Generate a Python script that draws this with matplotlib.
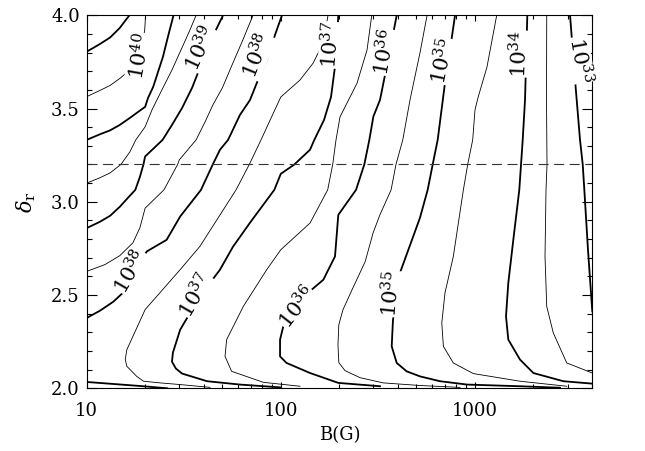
import matplotlib
matplotlib.use("Agg")
import matplotlib.pyplot as plt
from matplotlib.ticker import FixedLocator, LogLocator, MultipleLocator, NullFormatter, FormatStrFormatter

# contour lines: B in gauss, delta_r
b_41 = [10.0, 11.7, 13.2, 14.8, 15.9, 16.6]
d_41 = [3.805, 3.846, 3.881, 3.932, 3.975, 4.0]

b_405 = [10.0, 11.7, 13.2, 14.8, 16.7, 18.2, 19.3, 19.9, 20.1]
d_405 = [3.564, 3.597, 3.624, 3.661, 3.707, 3.761, 3.841, 3.921, 4.0]

b_40 = [10.0, 11.7, 13.2, 14.8, 16.7, 18.4, 20.0, 20.7, 22.0, 23.3, 24.7, 26.2, 28.0]
d_40 = [3.332, 3.362, 3.383, 3.412, 3.450, 3.482, 3.509, 3.557, 3.616, 3.696, 3.777, 3.884, 4.0]

b_395 = [10.0, 11.7, 13.2, 15.0, 16.7, 17.9, 20.0, 21.7, 24.4, 27.5, 30.6, 33.7, 36.6]
d_395 = [3.100, 3.129, 3.155, 3.2, 3.268, 3.332, 3.402, 3.493, 3.600, 3.707, 3.814, 3.911, 4.0]

b_39 = [10.0, 11.7, 13.2, 14.8, 16.3, 17.8, 18.8, 19.6, 20.0, 24.6, 27.5, 31.0, 34.9, 38.3, 41.7, 45.8, 50.4]
d_39 = [2.859, 2.893, 2.925, 2.973, 3.021, 3.064, 3.134, 3.2, 3.243, 3.332, 3.412, 3.503, 3.611, 3.718, 3.814, 3.911, 4.0]

b_385 = [10.0, 12.4, 14.8, 17.3, 18.8, 20.0, 25.0, 29.4, 30.0, 36.6, 40.7, 44.7, 50.0, 56.1, 63.1, 71.9]
d_385 = [2.627, 2.663, 2.711, 2.780, 2.861, 2.966, 3.064, 3.2, 3.225, 3.332, 3.428, 3.520, 3.611, 3.734, 3.857, 4.0]

b_38 = [10.0, 11.7, 13.7, 15.4, 17.7, 20.4, 25.8, 30.3, 38.8, 44.6, 48.6, 53.5, 61.6, 69.4, 76.3, 84.9, 93.3, 101.4]
d_38 = [2.377, 2.416, 2.464, 2.513, 2.636, 2.734, 2.796, 2.921, 3.064, 3.2, 3.279, 3.332, 3.466, 3.546, 3.653, 3.761, 3.894, 4.0]
b_38_low = [10.0, 19.6, 26.0]
d_38_low = [2.034, 2.011, 2.0]

b_375 = [43.2, 30.3, 23.9, 19.6, 18.1, 16.1, 15.8, 16.1, 20.0, 30.3, 38.3, 58.8, 68.8, 79.1, 84.9, 100.0, 125.6, 146.6, 165.0, 175.1]
d_375 = [2.005, 2.020, 2.029, 2.038, 2.064, 2.118, 2.154, 2.207, 2.422, 2.636, 2.761, 3.064, 3.2, 3.332, 3.402, 3.562, 3.653, 3.743, 3.850, 4.0]

b_37 = [99.1, 61.6, 41.7, 31.0, 28.8, 27.5, 27.8, 30.3, 38.3, 48.6, 56.7, 69.4, 92.6, 100.0, 117.4, 141.4, 148.8, 167.0, 181.4, 190.2, 195.0, 197.8]
d_37 = [2.005, 2.020, 2.038, 2.079, 2.106, 2.143, 2.191, 2.314, 2.493, 2.636, 2.759, 2.888, 3.064, 3.150, 3.2, 3.279, 3.332, 3.439, 3.562, 3.725, 3.868, 4.0]

b_365 = [125.6, 81.3, 55.8, 51.6, 52.6, 64.1, 84.6, 100.0, 141.4, 174.4, 185.1, 192.5, 201.8, 247.0, 278.1, 294.1]
d_365 = [2.011, 2.032, 2.091, 2.171, 2.261, 2.439, 2.636, 2.743, 2.886, 3.064, 3.2, 3.332, 3.455, 3.636, 3.814, 4.0]

b_36 = [324.3, 197.8, 141.4, 107.0, 99.1, 99.1, 103.0, 144.3, 165.6, 190.2, 197.8, 244.1, 269.3, 285.8, 299.8, 324.3, 351.3, 395.5]
d_36 = [2.011, 2.029, 2.082, 2.136, 2.171, 2.261, 2.332, 2.529, 2.582, 2.707, 2.930, 3.064, 3.2, 3.332, 3.457, 3.546, 3.725, 4.0]

b_355 = [838, 521, 337, 256, 214, 199, 197, 199, 209, 233, 272, 299, 324, 370, 392, 425, 463, 521, 567]
d_355 = [2.005, 2.015, 2.029, 2.057, 2.095, 2.138, 2.234, 2.341, 2.421, 2.529, 2.679, 2.834, 2.930, 3.064, 3.2, 3.332, 3.546, 3.798, 4.0]

b_35 = [2744, 1707, 911, 661, 521, 445, 395.5, 372.7, 378.4, 411.3, 474, 521, 571, 606, 643, 701, 744, 790]
d_35 = [2.003, 2.011, 2.020, 2.038, 2.064, 2.091, 2.136, 2.225, 2.368, 2.620, 2.796, 2.914, 3.064, 3.2, 3.332, 3.636, 3.814, 4.0]

b_345 = [2972, 1707, 981, 774, 688, 675, 701, 774, 872, 918, 974, 1001, 1041, 1154, 1295]
d_345 = [2.011, 2.038, 2.079, 2.136, 2.225, 2.350, 2.511, 2.707, 3.064, 3.2, 3.332, 3.493, 3.564, 3.723, 4.0]

b_34 = [4025, 2854, 2000, 1707, 1486, 1446, 1486, 1577, 1693, 1728, 1763, 1812, 1862]
d_34 = [2.025, 2.038, 2.082, 2.154, 2.261, 2.386, 2.565, 2.796, 3.064, 3.2, 3.332, 3.546, 4.0]

b_335 = [4025, 2972, 2534, 2344, 2297, 2324, 2352, 2338, 2344]
d_335 = [2.082, 2.136, 2.297, 2.439, 2.707, 3.064, 3.2, 3.546, 4.0]

b_33 = [4025, 3824, 3662, 3593, 3479, 3280, 3091]
d_33 = [2.412, 2.743, 3.064, 3.2, 3.332, 3.653, 4.0]

# contour labels
label_exp = [40, 39, 38, 37, 36, 35, 34, 33, 38, 37, 36, 35]
label_b = [18.8, 38.8, 75.4, 181, 344, 687, 1707, 3479, 16.9, 36.6, 121, 372]
label_d = [3.782, 3.819, 3.782, 3.841, 3.803, 3.755, 3.793, 3.761, 2.625, 2.497, 2.433, 2.507]
label_rot = [80, 65, 68, 85, 80, 78, 88, -80, 60, 60, 52, 84]

dashed_level = 3.2

lines = [
    (41, b_41, d_41), (40.5, b_405, d_405), (40, b_40, d_40),
    (39.5, b_395, d_395), (39, b_39, d_39), (38.5, b_385, d_385),
    (38, b_38, d_38), (38, b_38_low, d_38_low), (37.5, b_375, d_375),
    (37, b_37, d_37), (36.5, b_365, d_365), (36, b_36, d_36),
    (35.5, b_355, d_355), (35, b_35, d_35), (34.5, b_345, d_345),
    (34, b_34, d_34), (33.5, b_335, d_335), (33, b_33, d_33),
]

plt.rcParams["font.family"] = ["DejaVu Serif"]
plt.rcParams["mathtext.fontset"] = "dejavuserif"

fig = plt.figure(figsize=(6.45, 4.51), dpi=100)
ax = fig.add_axes([86.7 / 645, 1 - 388.3 / 451, (592.3 - 86.7) / 645, (388.3 - 15.3) / 451])

for level, b, d in lines:
    lw = 1.3 if float(level).is_integer() else 0.6
    ax.plot(b, d, color="black", lw=lw, solid_joinstyle="round")

ax.axhline(dashed_level, color="#333333", lw=0.8, ls=(0, (9, 5)))

for e, b, d, r in zip(label_exp, label_b, label_d, label_rot):
    ax.text(b, d, rf"$10^{{{e}}}$", fontsize=15, rotation=r, ha="center", va="center",
            rotation_mode="anchor", zorder=5,
            bbox=dict(fc="white", ec="none", pad=0.2))

ax.set_xscale("log")
ax.set_xlim(10, 4025)
ax.set_ylim(2.0, 4.0)

ax.xaxis.set_major_locator(FixedLocator([10, 100, 1000]))
ax.set_xticklabels(["10", "100", "1000"])
ax.xaxis.set_minor_locator(LogLocator(base=10, subs=range(2, 10)))
ax.xaxis.set_minor_formatter(NullFormatter())
ax.yaxis.set_major_locator(MultipleLocator(0.5))
ax.yaxis.set_minor_locator(MultipleLocator(0.1))
ax.yaxis.set_major_formatter(FormatStrFormatter("%.1f"))

ax.tick_params(which="both", direction="in", top=True, right=True, labelsize=13, width=0.8)
ax.tick_params(axis="x", which="major", length=4.5, pad=10)
ax.tick_params(axis="x", which="minor", length=2.8)
ax.tick_params(axis="y", which="major", length=7, pad=5)
ax.tick_params(axis="y", which="minor", length=3.5)
for s in ax.spines.values():
    s.set_linewidth(0.8)

ax.set_xlabel("B(G)", fontsize=13, labelpad=4)
ax.set_ylabel(r"$\delta_{\rm r}$", fontsize=15, labelpad=9)

fig.savefig("out.png", dpi=100)
